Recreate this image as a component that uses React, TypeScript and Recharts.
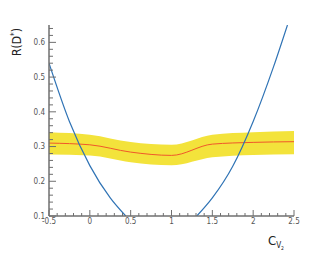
import React from 'react';
import { ComposedChart, Area, Line, XAxis, YAxis, Label } from 'recharts';

// yellow band: C_V2 value, lower edge, central value, upper edge
const bandX = [-0.5, 0, 0.5, 1, 1.5, 2, 2.5];
const bandLow = [0.277, 0.274, 0.255, 0.246, 0.269, 0.276, 0.278];
const bandMid = [0.31, 0.305, 0.284, 0.2745, 0.307, 0.312, 0.314];
const bandHigh = [0.3415, 0.334, 0.313, 0.305, 0.334, 0.341, 0.345];

// blue curve, split where it leaves the frame at the bottom
const curveX = [-0.5, -0.25, 0, 0.25, 0.44, null, 1.31, 1.5, 1.75, 2.0, 2.25, 2.42];
const curveY = [0.54, 0.372, 0.245, 0.152, 0.1, null, 0.1, 0.152, 0.243, 0.372, 0.53, 0.65];

const xMajor = [-0.5, 0, 0.5, 1, 1.5, 2, 2.5];
const yMajor = [0.1, 0.2, 0.3, 0.4, 0.5, 0.6];

const r = (v: number) => Math.round(v * 1000) / 1000;
const xTicks: number[] = [];
for (let i = 0; i <= 30; i++) xTicks.push(r(-0.5 + i * 0.1));
const yTicks: number[] = [];
for (let i = 0; i <= 27; i++) yTicks.push(r(0.1 + i * 0.02));

const bandData = bandX.map((x, i) => ({ x, range: [bandLow[i], bandHigh[i]], mid: bandMid[i] }));
const curveData = curveX.map((x, i) =>
  x === null ? { x: 0.9, y: null } : { x, y: curveY[i] }
);

const FONT = '"Liberation Sans Narrow", "DejaVu Sans Condensed", "Liberation Sans", Arial, sans-serif';
const AXIS = '#6f6f6f';
const LABEL = '#555';

const isMajor = (v: number, list: number[]) => list.some((m) => Math.abs(m - v) < 1e-6);

const YTick = (props: any) => {
  const { x, y, payload } = props;
  const major = isMajor(payload.value, yMajor);
  return (
    <g>
      <line x1={x} x2={x + (major ? 7 : 4)} y1={y} y2={y} stroke={AXIS} strokeWidth={1} />
      {major && (
        <text x={x - 4} y={y} dy="0.35em" textAnchor="end" fontSize={8} fontFamily={FONT} fill={LABEL}>
          {payload.value.toFixed(1)}
        </text>
      )}
    </g>
  );
};

const XTick = (props: any) => {
  const { x, y, payload } = props;
  const major = isMajor(payload.value, xMajor);
  return (
    <g>
      <line x1={x} x2={x} y1={y} y2={y - (major ? 6 : 3)} stroke={AXIS} strokeWidth={1} />
      {major && (
        <text x={x} y={y + 8} textAnchor="middle" fontSize={8} fontFamily={FONT} fill={LABEL}>
          {String(payload.value)}
        </text>
      )}
    </g>
  );
};

const YTitle = () => (
  <text
    x={21}
    y={42}
    transform="rotate(-90 21 42)"
    textAnchor="middle"
    fontSize={12}
    fontFamily={FONT}
    fill="#222"
  >
    R(D
    <tspan dy={-4} fontSize={8}>*</tspan>
    <tspan dy={4}>)</tspan>
  </text>
);

const XTitle = () => (
  <text x={268} y={245} fontSize={13} fontFamily={FONT} fill="#222">
    C
    <tspan dy={3} fontSize={8}>V</tspan>
    <tspan dy={2} fontSize={5}>2</tspan>
  </text>
);

export default function App() {
  return (
    <div style={{ position: 'absolute', left: 0, top: 0, background: '#fff' }}>
      <ComposedChart width={327} height={254} margin={{ top: 25, right: 33, left: 0, bottom: 0 }}>
        <XAxis
          xAxisId="b"
          dataKey="x"
          type="number"
          domain={[-0.5, 2.5]}
          ticks={xTicks}
          interval={0}
          allowDataOverflow
          height={38}
          tickSize={0}
          tickMargin={0}
          tickLine={false}
          tick={<XTick />}
          axisLine={{ stroke: AXIS, strokeWidth: 1.5 }}
        >
          <Label content={<XTitle />} />
        </XAxis>
        <XAxis
          xAxisId="t"
          orientation="top"
          type="number"
          domain={[-0.5, 2.5]}
          height={0}
          tick={false}
          tickLine={false}
          axisLine={{ stroke: AXIS, strokeWidth: 1.5 }}
        />
        <YAxis
          yAxisId="l"
          type="number"
          domain={[0.1, 0.65]}
          ticks={yTicks}
          interval={0}
          allowDataOverflow
          width={49}
          tickSize={0}
          tickMargin={0}
          tickLine={false}
          tick={<YTick />}
          axisLine={{ stroke: AXIS, strokeWidth: 1.5 }}
        >
          <Label content={<YTitle />} />
        </YAxis>
        <YAxis
          yAxisId="r"
          orientation="right"
          type="number"
          domain={[0.1, 0.65]}
          width={0}
          tick={false}
          tickLine={false}
          axisLine={{ stroke: AXIS, strokeWidth: 1.5 }}
        />
        <Area
          xAxisId="b"
          yAxisId="l"
          data={bandData}
          dataKey="range"
          type="monotone"
          fill="#f3e33b"
          fillOpacity={1}
          stroke="none"
          isAnimationActive={false}
        />
        <Line
          xAxisId="b"
          yAxisId="l"
          data={bandData}
          dataKey="mid"
          type="monotone"
          stroke="#f0582a"
          strokeWidth={1}
          dot={false}
          isAnimationActive={false}
        />
        <Line
          xAxisId="b"
          yAxisId="l"
          data={curveData}
          dataKey="y"
          type="monotone"
          stroke="#2f73b5"
          strokeWidth={1.2}
          dot={false}
          connectNulls={false}
          isAnimationActive={false}
        />
      </ComposedChart>
    </div>
  );
}
